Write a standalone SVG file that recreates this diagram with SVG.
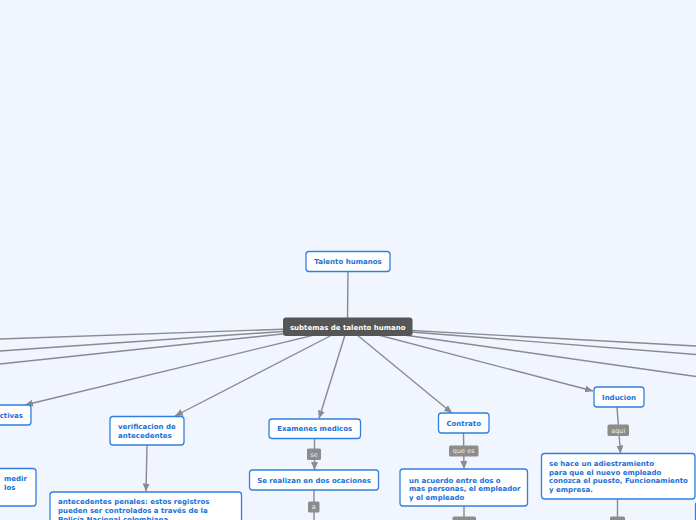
<svg xmlns="http://www.w3.org/2000/svg" width="696" height="520" viewBox="0 0 696 520">
<defs>
<marker id="arr" markerUnits="userSpaceOnUse" markerWidth="8" markerHeight="7" refX="8" refY="3.5" orient="auto">
<path d="M0,0 L8,3.5 L0,7 z" fill="#8a8a90"/>
</marker>
<style>
.c{stroke:#8a8a90;stroke-width:1.4;fill:none}
.n{fill:#ffffff;stroke:#2f80e2;stroke-width:1.3}
.t{font-family:"DejaVu Sans",Verdana,sans-serif;font-weight:bold;font-size:7px;fill:#1a6fd9}
.m{text-anchor:middle}
.lb{fill:#8c8c8c}
.lt{font-family:"DejaVu Sans",Verdana,sans-serif;font-size:6.5px;fill:#eeeeee;text-anchor:middle}
</style>
</defs>
<rect width="696" height="520" fill="#f1f5fe"/>
<g id="connectors">
<line class="c" x1="348" y1="271" x2="347.5" y2="318"/>
<line class="c" x1="347.5" y1="327" x2="0" y2="339"/>
<line class="c" x1="347.5" y1="327" x2="0" y2="351"/>
<line class="c" x1="347.5" y1="327" x2="0" y2="364"/>
<line class="c" x1="347.5" y1="327" x2="25" y2="405" marker-end="url(#arr)"/>
<line class="c" x1="347.5" y1="327" x2="175" y2="416" marker-end="url(#arr)"/>
<line class="c" x1="347.5" y1="327" x2="319" y2="418.5" marker-end="url(#arr)"/>
<line class="c" x1="347.5" y1="327" x2="452" y2="413" marker-end="url(#arr)"/>
<line class="c" x1="347.5" y1="327" x2="593" y2="391" marker-end="url(#arr)"/>
<line class="c" x1="347.5" y1="327" x2="696" y2="346"/>
<line class="c" x1="347.5" y1="327" x2="696" y2="354.5"/>
<line class="c" x1="347.5" y1="327" x2="696" y2="376.5"/>
<line class="c" x1="147" y1="445" x2="146" y2="491.5" marker-end="url(#arr)"/>
<line class="c" x1="314.5" y1="438.5" x2="314.5" y2="470" marker-end="url(#arr)"/>
<line class="c" x1="314" y1="490" x2="314" y2="525"/>
<line class="c" x1="463.5" y1="433" x2="464" y2="469" marker-end="url(#arr)"/>
<line class="c" x1="464" y1="506" x2="464" y2="525"/>
<line class="c" x1="617" y1="407" x2="620.5" y2="453.5" marker-end="url(#arr)"/>
<line class="c" x1="617.5" y1="499" x2="617.5" y2="525"/>
<rect class="lb" x="307" y="448.5" width="14" height="11.5" rx="1.5"/>
<text class="lt" x="314" y="456.6">se</text>
<rect class="lb" x="308" y="501.5" width="11.5" height="11" rx="1.5"/>
<text class="lt" x="313.8" y="509.3">a</text>
<rect class="lb" x="449" y="445.5" width="29.5" height="11" rx="1.5"/>
<text class="lt" x="463.7" y="453.3">que es</text>
<rect class="lb" x="452.5" y="516.5" width="23.5" height="10" rx="1.5"/>
<rect class="lb" x="607.5" y="424.5" width="21.5" height="11.5" rx="1.5"/>
<text class="lt" x="618.2" y="432.6">aqui</text>
<rect class="lb" x="610" y="516.5" width="15" height="10" rx="1.5"/>
</g>
<g id="talento-humanos">
<rect class="n" x="306" y="251.5" width="84" height="20" rx="3"/>
<text class="t m" x="348" y="264">Talento humanos</text>
</g>
<g id="subtemas">
<rect x="283" y="317.5" width="129.5" height="18.5" rx="3" fill="#565656"/>
<text class="t m" x="347.7" y="329.5" style="fill:#ffffff">subtemas de talento humano</text>
</g>
<g id="node-ctivas">
<rect class="n" x="-40" y="405" width="71" height="20" rx="3"/>
<text class="t" x="23" y="418" text-anchor="end">ctivas</text>
</g>
<g id="node-medir">
<rect class="n" x="-60" y="468.5" width="96" height="37.5" rx="3"/>
<text class="t" x="4" y="480.5">medir</text>
<text class="t" x="4" y="489.6">los</text>
</g>
<g id="verificacion">
<rect class="n" x="110" y="416.5" width="74" height="28.5" rx="3"/>
<text class="t" x="118" y="429.2">verificacion de</text>
<text class="t" x="118" y="438.2">antecedentes</text>
</g>
<g id="antecedentes-penales">
<rect class="n" x="50" y="492" width="191.5" height="40" rx="3"/>
<text class="t" x="58" y="504.2">antecedentes penales: estos registros</text>
<text class="t" x="58" y="513.2">pueden ser controlados a través de la</text>
<text class="t" x="58" y="522.1">Policía Nacional colombiana.</text>
</g>
<g id="examenes">
<rect class="n" x="269" y="419" width="91.5" height="19.5" rx="3"/>
<text class="t m" x="314.7" y="431.2">Examenes medicos</text>
</g>
<g id="se-realizan">
<rect class="n" x="249.5" y="470" width="129" height="20" rx="3"/>
<text class="t m" x="314" y="482.6">Se realizan en dos ocaciones</text>
</g>
<g id="contrato">
<rect class="n" x="438.5" y="413" width="50.5" height="20" rx="3"/>
<text class="t m" x="463.7" y="425.5">Contrato</text>
</g>
<g id="acuerdo">
<rect class="n" x="400" y="469" width="127.5" height="37" rx="3"/>
<text class="t" x="409" y="482.5">un acuerdo entre dos o</text>
<text class="t" x="409" y="491.1">mas personas, el empleador</text>
<text class="t" x="409" y="499.6">y el empleado</text>
</g>
<g id="inducion">
<rect class="n" x="594" y="387" width="50" height="20" rx="3"/>
<text class="t m" x="619" y="399.5">Inducion</text>
</g>
<g id="adiestramiento">
<rect class="n" x="541.5" y="453.5" width="153.5" height="45.5" rx="3"/>
<text class="t" x="549" y="465.8">se hace un adiestramiento</text>
<text class="t" x="549" y="474.6">para que el nuevo empleado</text>
<text class="t" x="549" y="483.2">conozca el puesto, Funcionamiento</text>
<text class="t" x="549" y="491.8">y empresa.</text>
</g>
<g id="node-right">
<rect class="n" x="695.5" y="502" width="40" height="30" rx="3"/>
</g>
</svg>
